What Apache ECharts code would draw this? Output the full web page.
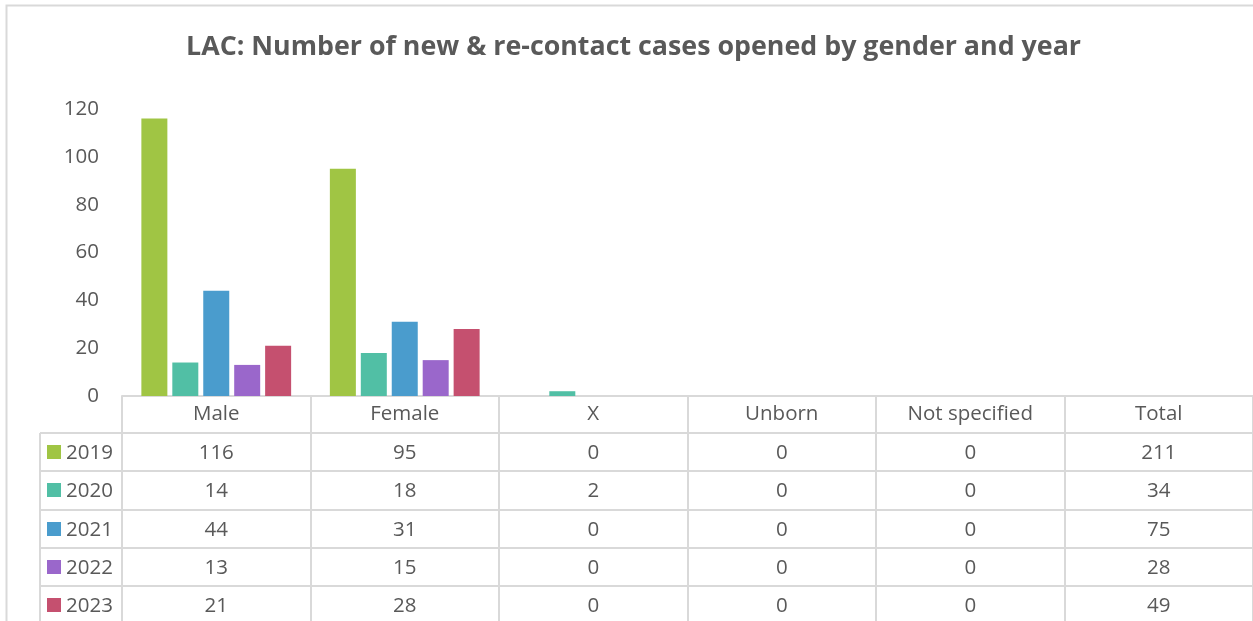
<!DOCTYPE html>
<html>
<head>
<meta charset="utf-8">
<script src="https://cdn.jsdelivr.net/npm/echarts@6/dist/echarts.min.js"></script>
<style>
  html, body { margin: 0; padding: 0; background: #fff; }
  #main { width: 1253px; height: 621px; }
</style>
</head>
<body>
<div id="main"></div>
<script>
// categories in the table / on the x axis
var categories = ['Male', 'Female', 'X', 'Unborn', 'Not specified', 'Total'];
var years = ['2019', '2020', '2021', '2022', '2023'];
// one row per year, same order as categories
var values2019 = [116, 95, 0, 0, 0, 211];
var values2020 = [14, 18, 2, 0, 0, 34];
var values2021 = [44, 31, 0, 0, 0, 75];
var values2022 = [13, 15, 0, 0, 0, 28];
var values2023 = [21, 28, 0, 0, 0, 49];
var yTicks = [0, 20, 40, 60, 80, 100, 120];

var rows = [values2019, values2020, values2021, values2022, values2023];
var colors = ['#a0c544', '#51bfa5', '#4a9ccd', '#9a67cb', '#c5506f'];

(function () {
    var FONT = '"Open Sans", "Liberation Sans", sans-serif';
    var TXT = '#595959';
    var LINE = '#d9d9d9';
    var FS = 20.5;
    var gridLeft = 122, gridTop = 109, gridH = 287, gridW = 1139;
    var axisY = gridTop + gridH;       // 396
    var rowH = 38.25;
    var firstRowTop = 433;

    var chart = echarts.init(document.getElementById('main'));

    // bars: Total column is not plotted, only shown in the table
    var series = years.map(function (y, k) {
        return {
            name: y,
            type: 'bar',
            xAxisIndex: 0,
            barWidth: 26,
            barGap: '19%',
            itemStyle: { color: colors[k] },
            data: rows[k].map(function (v, i) { return categories[i] === 'Total' ? null : v; })
        };
    });

    var xAxes = [{
        type: 'category',
        data: categories,
        position: 'bottom',
        axisLine: { show: true, lineStyle: { color: LINE, width: 2 } },
        axisTick: { show: true, interval: 0, length: 230, lineStyle: { color: LINE, width: 2 } },
        axisLabel: { interval: 0, margin: 8, color: TXT, fontSize: FS, fontFamily: FONT }
    }];
    // one extra axis per table row, labels are the row values
    rows.forEach(function (row, k) {
        xAxes.push({
            type: 'category',
            data: categories,
            position: 'bottom',
            offset: Math.round(firstRowTop - axisY + rowH * k),
            axisLine: { show: true, lineStyle: { color: LINE, width: 2 } },
            axisTick: { show: false },
            axisLabel: {
                interval: 0, margin: 10, color: TXT, fontSize: FS, fontFamily: FONT,
                formatter: function (v, i) { return String(row[i]); }
            }
        });
    });

    // legend column of the data table
    var graphics = [{
        type: 'rect', silent: true,
        shape: { x: 6.5, y: 5.5, width: 1400, height: 800 },
        style: { fill: null, stroke: LINE, lineWidth: 2 }
    }, {
        type: 'line', silent: true,
        shape: { x1: 40, y1: firstRowTop, x2: 40, y2: 640 },
        style: { stroke: LINE, lineWidth: 2 }
    }];
    years.forEach(function (y, k) {
        var top = Math.round(firstRowTop + rowH * k);
        graphics.push({
            type: 'line', silent: true,
            shape: { x1: 40, y1: top, x2: gridLeft, y2: top },
            style: { stroke: LINE, lineWidth: 2 }
        });
        graphics.push({
            type: 'rect', silent: true,
            shape: { x: 47, y: top + 12, width: 14, height: 14 },
            style: { fill: colors[k] }
        });
        graphics.push({
            type: 'text', silent: true,
            x: 66, y: top + 20,
            style: { text: y, fill: TXT, fontSize: FS, fontFamily: FONT, verticalAlign: 'middle' }
        });
    });

    var option = {
        animation: false,
        title: {
            text: 'LAC: Number of new & re-contact cases opened by gender and year',
            left: 181,
            top: 29,
            textStyle: { color: TXT, fontSize: 26.8, fontWeight: 'bold', fontFamily: FONT }
        },
        grid: { left: gridLeft, top: gridTop, width: gridW, height: gridH, containLabel: false },
        xAxis: xAxes,
        yAxis: {
            type: 'value',
            min: yTicks[0],
            max: yTicks[yTicks.length - 1],
            interval: yTicks[1] - yTicks[0],
            axisLine: { show: false },
            axisTick: { show: false },
            splitLine: { show: false },
            axisLabel: { margin: 23, color: TXT, fontSize: FS, fontFamily: FONT }
        },
        series: series,
        graphic: graphics
    };
    chart.setOption(option);
}());
</script>
</body>
</html>
